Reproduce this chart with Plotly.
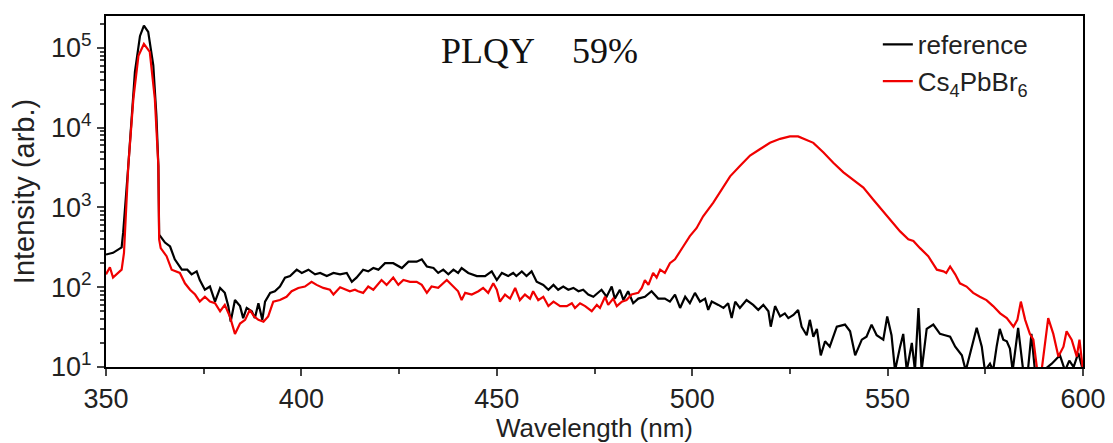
import plotly.graph_objects as go

# ---- data ----
ref_wl = [350.0, 351.8, 354.0, 354.4, 355.7, 356.6, 357.4, 358.7, 359.7, 360.8, 362.1, 362.9, 363.4, 363.6,
          365.1, 366.4, 367.6, 369.4, 370.8, 371.9, 373.2, 374.0, 375.3, 376.6, 377.9, 379.2, 380.4, 381.3,
          381.9, 383.0, 384.3, 385.1, 386.0, 387.3, 388.1, 389.0, 390.0, 390.7, 392.0, 393.2, 394.5, 395.8,
          397.1, 398.8, 400.1, 401.8, 403.5, 404.8, 406.5, 408.2, 409.9, 411.6, 412.9, 414.1, 415.8, 417.1,
          418.4, 419.7, 421.4, 423.5, 425.7, 427.4, 429.5, 430.8, 432.1, 433.8, 435.0, 436.3, 437.6, 438.9,
          440.1, 441.0, 442.7, 444.9, 447.0, 448.7, 450.0, 451.3, 452.9, 454.2, 455.0, 456.4, 457.6, 458.9,
          460.2, 461.9, 463.2, 464.5, 465.7, 467.0, 468.3, 469.6, 470.9, 472.1, 473.4, 474.7, 476.8, 478.1,
          479.4, 480.2, 481.5, 482.4, 483.6, 484.9, 486.2, 487.9, 489.6, 491.3, 493.0, 494.3, 495.6, 496.9,
          498.2, 499.4, 500.7, 502.0, 503.3, 504.1, 505.0, 506.7, 508.0, 509.2, 510.1, 511.0, 512.2, 513.9,
          515.6, 516.9, 518.2, 519.5, 520.1, 521.2, 522.5, 523.7, 524.6, 525.9, 527.1, 528.0, 529.3, 530.1,
          531.0, 531.9, 532.9, 534.0, 535.2, 537.0, 539.1, 540.4, 541.7, 543.4, 544.6, 545.9, 547.2, 548.9,
          549.9, 551.0, 551.9, 553.2, 554.0, 554.9, 556.2, 557.0, 557.9, 558.7, 560.0, 561.7, 563.4, 564.7,
          566.0, 567.3, 569.0, 570.0, 571.5, 572.8, 574.1, 574.9, 576.2, 577.0, 577.9, 578.7, 579.6, 580.5,
          581.3, 582.0, 583.4, 584.7, 585.9, 586.8, 587.7, 589.8, 592.0, 594.1, 595.4, 596.5, 597.6, 598.8, 600.0]
ref_int = [257, 270, 316, 490, 3311, 14125, 50119, 141254, 190546, 158489, 60256, 14125, 3311, 457,
           363, 324, 224, 166, 166, 145, 158, 123, 93, 102, 66, 98, 85, 58,
           37, 69, 58, 41, 55, 50, 41, 63, 39, 66, 85, 89, 102, 132,
           138, 166, 151, 166, 145, 151, 138, 151, 145, 151, 117, 132, 166, 158,
           174, 166, 200, 200, 174, 209, 209, 224, 182, 174, 151, 166, 145, 166,
           151, 174, 151, 138, 138, 158, 123, 151, 138, 151, 138, 158, 138, 158,
           117, 107, 93, 107, 93, 102, 93, 98, 89, 93, 81, 76, 93, 76,
           102, 72, 93, 69, 89, 63, 72, 76, 89, 72, 72, 66, 81, 55,
           76, 63, 85, 66, 72, 52, 66, 60, 55, 63, 41, 66, 55, 69,
           60, 52, 60, 50, 32, 58, 43, 47, 41, 45, 52, 32, 25, 39,
           24, 30, 14, 21, 18, 32, 34, 28, 14, 22, 24, 34, 25, 22,
           43, 25, 9, 18, 26, 9, 20, 9, 55, 9, 30, 34, 26, 25,
           24, 18, 14, 9, 18, 31, 18, 9, 11, 9, 18, 30, 22, 21,
           17, 9, 31, 9, 9, 26, 9, 9, 11, 14, 9, 12, 10, 15, 9]

cs_wl = [350.0, 351.0, 351.8, 353.0, 354.0, 354.6, 355.7, 357.0, 358.3, 359.7, 361.2, 362.5, 363.4, 363.6,
         364.0, 365.5, 366.8, 368.9, 370.2, 371.5, 372.8, 374.0, 375.3, 376.6, 377.9, 379.2, 380.4, 381.7,
         382.4, 383.0, 384.3, 385.6, 386.8, 387.9, 389.0, 390.3, 391.5, 392.8, 394.5, 396.2, 397.5, 399.2,
         400.9, 402.6, 403.9, 405.6, 407.3, 408.2, 409.9, 411.2, 412.4, 413.7, 414.5, 415.8, 417.1, 418.4,
         419.7, 420.5, 421.8, 423.5, 424.8, 426.1, 427.8, 429.5, 430.8, 432.1, 433.3, 435.0, 437.2, 438.9,
         440.1, 441.0, 441.9, 443.6, 445.3, 446.5, 447.8, 449.1, 450.0, 450.8, 452.1, 453.4, 454.7, 455.9,
         457.2, 458.5, 459.3, 460.6, 461.9, 463.2, 464.5, 466.2, 467.9, 469.2, 470.0, 471.3, 472.6, 474.3,
         475.6, 476.4, 477.7, 478.5, 479.8, 480.7, 482.0, 483.2, 484.5, 486.2, 487.1, 487.9, 488.8, 490.0,
         490.9, 491.8, 493.0, 494.3, 495.6, 497.7, 499.4, 501.1, 502.8, 505.4, 507.5, 509.7, 512.2, 514.8,
         517.3, 519.9, 522.5, 525.0, 527.1, 529.3, 531.0, 533.6, 536.1, 538.7, 541.2, 543.8, 546.3, 548.9,
         551.5, 553.2, 555.3, 556.6, 558.3, 560.4, 562.6, 564.3, 565.0, 566.0, 567.3, 568.5, 570.2, 571.9,
         573.6, 575.3, 577.0, 578.8, 580.5, 582.2, 583.2, 584.1, 585.2, 586.4, 587.3, 588.3, 589.4, 591.1,
         592.4, 593.7, 595.0, 595.8, 597.1, 598.4, 599.1, 600.0]
cs_int = [145, 178, 132, 151, 166, 269, 3311, 22909, 79433, 112202, 89125, 22909, 3311, 398,
          309, 245, 166, 151, 112, 93, 81, 66, 76, 66, 63, 50, 60, 43,
          32, 26, 35, 39, 52, 43, 39, 37, 43, 66, 69, 76, 89, 98,
          102, 117, 107, 98, 93, 81, 100, 93, 89, 93, 89, 85, 102, 93,
          112, 123, 107, 132, 107, 123, 117, 117, 107, 85, 102, 98, 123, 102,
          89, 69, 85, 81, 89, 98, 85, 112, 93, 66, 81, 72, 98, 69,
          81, 72, 89, 69, 76, 58, 66, 58, 58, 63, 55, 63, 58, 50,
          60, 55, 76, 60, 72, 58, 66, 69, 81, 85, 98, 123, 107, 151,
          132, 166, 151, 200, 224, 324, 437, 550, 776, 1148, 1698, 2455, 3311, 4467,
          5370, 6457, 7244, 7762, 7762, 7079, 6457, 4898, 3631, 2754, 2239, 1778, 1259, 891,
          646, 501, 398, 380, 309, 245, 166, 158, 151, 182, 145, 112, 102, 85,
          76, 69, 58, 47, 41, 32, 39, 66, 39, 26, 22, 9, 9, 41,
          26, 13.5, 18, 28, 22, 13.5, 22, 9]

series_names = ["reference", "Cs<sub>4</sub>PbBr<sub>6</sub>"]
series_colors = ["#000000", "#f00000"]

x_ticks = [350, 400, 450, 500, 550, 600]
y_tickvals = [10, 100, 1000, 10000, 100000]
y_ticktext = ["10<sup>1</sup>", "10<sup>2</sup>", "10<sup>3</sup>", "10<sup>4</sup>", "10<sup>5</sup>"]
y_minor = [m * d for d in (10, 100, 1000, 10000, 100000) for m in range(2, 10)]

fig = go.Figure()
fig.add_trace(go.Scatter(x=ref_wl, y=ref_int, mode="lines", name=series_names[0],
                         line=dict(color=series_colors[0], width=2.2)))
fig.add_trace(go.Scatter(x=cs_wl, y=cs_int, mode="lines", name=series_names[1],
                         line=dict(color=series_colors[1], width=2.2)))

sans = "Liberation Sans, Arial, sans-serif"
tick_font = dict(family=sans, size=27, color="#222222")
serif_font = dict(family="Liberation Serif, Times New Roman, serif", size=36, color="#111111")

fig.update_layout(
    width=1113, height=443,
    margin=dict(l=106, r=30, t=16, b=76),
    paper_bgcolor="white", plot_bgcolor="white",
    font=dict(family=sans, size=25, color="#222222"),
    showlegend=True,
    legend=dict(x=0.790, y=0.986, xanchor="left", yanchor="top",
                bgcolor="rgba(0,0,0,0)", font=dict(family=sans, size=26, color="#222222"),
                tracegroupgap=0, itemwidth=30),
    annotations=[
        dict(text="PLQY", x=0.3915, y=0.9, xref="paper", yref="paper", showarrow=False,
             xanchor="center", yanchor="middle", font=serif_font),
        dict(text="59%", x=0.5105, y=0.9, xref="paper", yref="paper", showarrow=False,
             xanchor="center", yanchor="middle", font=serif_font),
    ],
)

fig.update_xaxes(
    range=[350, 600], tickvals=x_ticks, ticks="outside", ticklen=7, tickwidth=2,
    showline=True, linecolor="black", linewidth=2, mirror=True, showgrid=False, zeroline=False,
    tickfont=tick_font, automargin=False,
    minor=dict(dtick=25, ticks="outside", ticklen=5, tickwidth=2, showgrid=False),
    title=dict(text="Wavelength (nm)", font=dict(family=sans, size=26, color="#222222"), standoff=4),
)
fig.update_yaxes(
    type="log", range=[1, 5.40], tickvals=y_tickvals, ticktext=y_ticktext,
    ticks="outside", ticklen=7, tickwidth=2,
    showline=True, linecolor="black", linewidth=2, mirror=True, showgrid=False, zeroline=False,
    tickfont=tick_font, automargin=False,
    minor=dict(tickvals=y_minor, ticks="outside", ticklen=4, tickwidth=1.5, showgrid=False),
    title=dict(text="Intensity (arb.)", font=dict(family=sans, size=29, color="#222222"), standoff=8),
)

fig.write_html("out.html", config={"displayModeBar": False},
               post_script="document.body.style.margin='0';")
